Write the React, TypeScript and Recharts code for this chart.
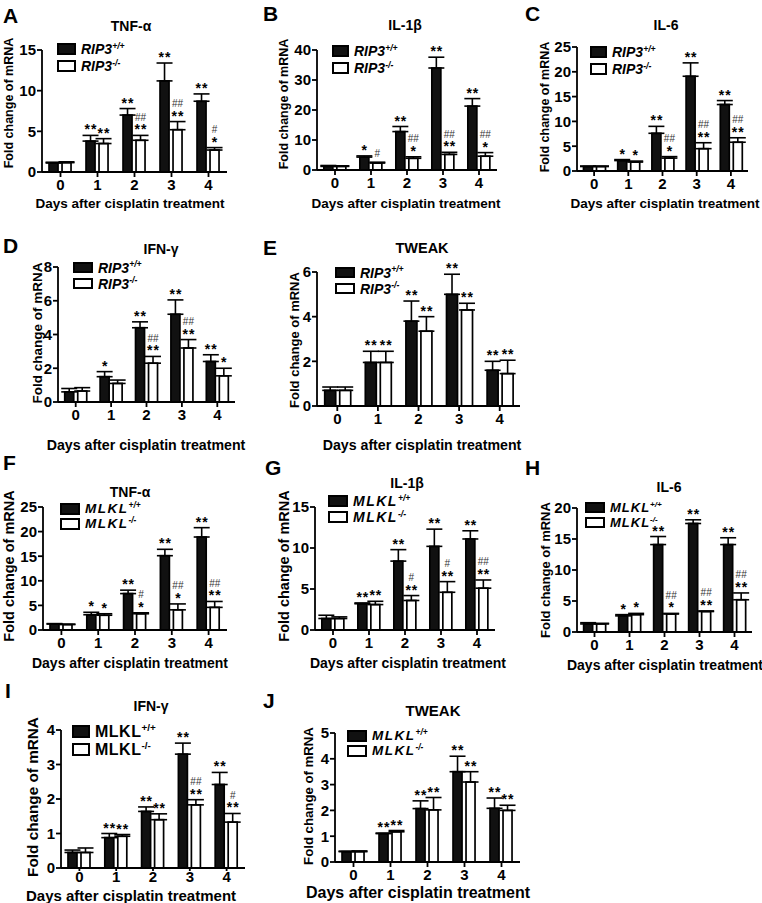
import React from 'react';
import { BarChart, Bar, XAxis, YAxis, ErrorBar, Legend } from 'recharts';

const FONT = '"Liberation Sans", Arial, Helvetica, sans-serif';

// categories (days after cisplatin)
const days = ['0', '1', '2', '3', '4'];

// A – TNF-α, RIP3
const aWt = [1.1, 3.8, 7.0, 11.2, 8.7];
const aWtErr = [0.1, 0.7, 0.8, 2.2, 0.9];
const aKo = [1.15, 3.5, 3.9, 5.2, 2.7];
const aKoErr = [0.1, 0.6, 0.6, 1.0, 0.3];
const aWtSig = ['', '**', '**', '**', '**'];
const aKoSig = ['', '**', '**', '**', '*'];
const aKoHash = ['', '', '##', '##', '#'];

// B – IL-1β, RIP3
const bWt = [1.2, 4.3, 12.8, 34.0, 21.3];
const bWtErr = [0.3, 0.4, 1.7, 3.6, 2.5];
const bKo = [1.2, 2.3, 3.9, 5.2, 4.6];
const bKoErr = [0.2, 0.3, 0.5, 0.7, 1.2];
const bWtSig = ['', '*', '**', '**', '**'];
const bKoSig = ['', '', '*', '**', '*'];
const bKoHash = ['', '#', '##', '##', '##'];

// C – IL-6, RIP3
const cWt = [0.9, 2.1, 7.6, 19.1, 13.4];
const cWtErr = [0.1, 0.2, 1.4, 2.7, 0.8];
const cKo = [0.9, 1.8, 2.6, 4.5, 5.8];
const cKoErr = [0.1, 0.2, 0.3, 1.2, 0.9];
const cWtSig = ['', '*', '**', '**', '**'];
const cKoSig = ['', '*', '*', '**', '**'];
const cKoHash = ['', '', '##', '##', '##'];

// D – IFN-γ, RIP3
const dWt = [0.6, 1.5, 4.4, 5.2, 2.4];
const dWtErr = [0.2, 0.3, 0.35, 0.85, 0.4];
const dKo = [0.65, 1.1, 2.3, 3.2, 1.55];
const dKoErr = [0.2, 0.2, 0.4, 0.5, 0.45];
const dWtSig = ['', '*', '**', '**', '**'];
const dKoSig = ['', '', '**', '**', '*'];
const dKoHash = ['', '', '##', '##', ''];

// E – TWEAK, RIP3
const eWt = [0.7, 1.95, 3.8, 5.0, 1.6];
const eWtErr = [0.15, 0.5, 0.9, 0.9, 0.4];
const eKo = [0.7, 1.95, 3.35, 4.3, 1.45];
const eKoErr = [0.15, 0.5, 0.65, 0.3, 0.6];
const eWtSig = ['', '**', '**', '**', '**'];
const eKoSig = ['', '**', '**', '**', '**'];
const eKoHash = ['', '', '', '', ''];

// F – TNF-α, MLKL
const fWt = [1.2, 3.1, 7.4, 15.1, 18.9];
const fWtErr = [0.1, 0.5, 0.7, 1.3, 1.9];
const fKo = [1.1, 3.0, 3.3, 4.1, 4.6];
const fKoErr = [0.1, 0.3, 0.2, 1.2, 1.2];
const fWtSig = ['', '*', '**', '**', '**'];
const fKoSig = ['', '*', '*', '*', '**'];
const fKoHash = ['', '', '#', '##', '##'];

// G – IL-1β, MLKL
const gWt = [1.4, 3.2, 8.4, 10.2, 11.1];
const gWtErr = [0.4, 0.1, 1.4, 2.1, 1.0];
const gKo = [1.4, 3.1, 3.6, 4.6, 5.1];
const gKoErr = [0.2, 0.4, 0.6, 1.3, 1.0];
const gWtSig = ['', '**', '**', '**', '**'];
const gKoSig = ['', '**', '**', '**', '**'];
const gKoHash = ['', '', '#', '#', '##'];

// H – IL-6, MLKL
const hWt = [1.3, 2.6, 14.1, 17.5, 14.1];
const hWtErr = [0.2, 0.2, 1.3, 0.6, 1.1];
const hKo = [1.3, 2.8, 2.9, 3.3, 5.2];
const hKoErr = [0.1, 0.2, 0.1, 0.1, 1.1];
const hWtSig = ['', '*', '**', '**', '**'];
const hKoSig = ['', '*', '*', '**', '**'];
const hKoHash = ['', '', '##', '##', '##'];

// I – IFN-γ, MLKL
const iWt = [0.45, 0.88, 1.64, 3.3, 2.42];
const iWtErr = [0.07, 0.12, 0.13, 0.32, 0.35];
const iKo = [0.45, 0.92, 1.4, 1.83, 1.33];
const iKoErr = [0.13, 0.05, 0.17, 0.15, 0.25];
const iWtSig = ['', '**', '**', '**', '**'];
const iKoSig = ['', '**', '**', '**', '**'];
const iKoHash = ['', '', '', '##', '#'];

// J – TWEAK, MLKL
const jWt = [0.4, 1.1, 2.07, 3.5, 2.08];
const jWtErr = [0.02, 0.02, 0.3, 0.6, 0.4];
const jKo = [0.4, 1.17, 2.02, 3.1, 2.0];
const jKoErr = [0.03, 0.05, 0.48, 0.4, 0.2];
const jWtSig = ['', '**', '**', '**', '**'];
const jKoSig = ['', '**', '**', '**', '**'];
const jKoHash = ['', '', '', '', ''];

const ticks4 = [0, 1, 2, 3, 4];
const ticks5 = [0, 1, 2, 3, 4, 5];
const ticks8 = [0, 2, 4, 6, 8];
const ticks6 = [0, 2, 4, 6];
const ticks15 = [0, 5, 10, 15];
const ticks20 = [0, 5, 10, 15, 20];
const ticks25 = [0, 5, 10, 15, 20, 25];
const ticks40 = [0, 10, 20, 30, 40];

const YW = 32;
const MT = 14;
const MR = 6;
const XH = 24;

const axisStyle = { stroke: '#000', strokeWidth: 1.8 };
const tickStyle = { fontFamily: FONT, fontSize: 15, fontWeight: 700, fill: '#000' };

const panels: any[] = [
  { letter: 'A', lx: 3, ly: 14.5, title: 'TNF-α', tx: 131, ty: 26, tf: 14,
    pl: 42, pr: 227, pt: 50, pb: 172, yMax: 15, yTicks: ticks15,
    ylx: 9, yly: 103, ylf: 12.5, xlx: 130, xly: 204, xlf: 13.5,
    gene: 'RIP3', italic: true, spacing: 0, bx: 57, by: 43, bw: 19, bh: 12, pitch: 17, lf: 14,
    wt: aWt, wtErr: aWtErr, ko: aKo, koErr: aKoErr, wtSig: aWtSig, koSig: aKoSig, koHash: aKoHash },
  { letter: 'B', lx: 263, ly: 12.5, title: 'IL-1β', tx: 405, ty: 25, tf: 14,
    pl: 317, pr: 497, pt: 50, pb: 170, yMax: 40, yTicks: ticks40,
    ylx: 284, yly: 104, ylf: 12.5, xlx: 406, xly: 204, xlf: 13.5,
    gene: 'RIP3', italic: true, spacing: 0, bx: 332, by: 45, bw: 17, bh: 12, pitch: 17, lf: 14,
    wt: bWt, wtErr: bWtErr, ko: bKo, koErr: bKoErr, wtSig: bWtSig, koSig: bKoSig, koHash: bKoHash },
  { letter: 'C', lx: 525, ly: 12.5, title: 'IL-6', tx: 666, ty: 25, tf: 14,
    pl: 577, pr: 748, pt: 47, pb: 171, yMax: 25, yTicks: ticks25,
    ylx: 545, yly: 107, ylf: 12.5, xlx: 665, xly: 204, xlf: 13.5,
    gene: 'RIP3', italic: true, spacing: 0, bx: 590, by: 46, bw: 17, bh: 12, pitch: 17, lf: 14,
    wt: cWt, wtErr: cWtErr, ko: cKo, koErr: cKoErr, wtSig: cWtSig, koSig: cKoSig, koHash: cKoHash },
  { letter: 'D', lx: 3, ly: 245, title: 'IFN-γ', tx: 161, ty: 249, tf: 14,
    pl: 58, pr: 235, pt: 267, pb: 402, yMax: 8, yTicks: ticks8,
    ylx: 38, yly: 333, ylf: 13.5, xlx: 146, xly: 445, xlf: 14.2,
    gene: 'RIP3', italic: true, spacing: 0, bx: 73, by: 262, bw: 20, bh: 11, pitch: 16, lf: 14,
    wt: dWt, wtErr: dWtErr, ko: dKo, koErr: dKoErr, wtSig: dWtSig, koSig: dKoSig, koHash: dKoHash },
  { letter: 'E', lx: 263, ly: 247, title: 'TWEAK', tx: 422, ty: 248, tf: 14.5,
    pl: 317, pr: 520, pt: 272, pb: 406, yMax: 6, yTicks: ticks6,
    ylx: 294, yly: 340, ylf: 13, xlx: 422, xly: 445, xlf: 14.2,
    gene: 'RIP3', italic: true, spacing: 0, bx: 335, by: 267, bw: 20, bh: 11, pitch: 16, lf: 14,
    wt: eWt, wtErr: eWtErr, ko: eKo, koErr: eKoErr, wtSig: eWtSig, koSig: eKoSig, koHash: eKoHash },
  { letter: 'F', lx: 3, ly: 462, title: 'TNF-α', tx: 130, ty: 492, tf: 14,
    pl: 43, pr: 227, pt: 507, pb: 630, yMax: 25, yTicks: ticks25,
    ylx: 9, yly: 566, ylf: 14.5, xlx: 130, xly: 663, xlf: 14,
    gene: 'MLKL', italic: true, spacing: 1.5, bx: 60, by: 503, bw: 20, bh: 12, pitch: 15, lf: 13.5,
    wt: fWt, wtErr: fWtErr, ko: fKo, koErr: fKoErr, wtSig: fWtSig, koSig: fKoSig, koHash: fKoHash },
  { letter: 'G', lx: 265, ly: 467, title: 'IL-1β', tx: 407, ty: 483, tf: 14,
    pl: 315, pr: 495, pt: 507, pb: 630, yMax: 15, yTicks: ticks15,
    ylx: 284, yly: 566, ylf: 14.5, xlx: 408, xly: 663, xlf: 14,
    gene: 'MLKL', italic: true, spacing: 1.5, bx: 328, by: 495, bw: 20, bh: 12, pitch: 16, lf: 14,
    wt: gWt, wtErr: gWtErr, ko: gKo, koErr: gKoErr, wtSig: gWtSig, koSig: gKoSig, koHash: gKoHash },
  { letter: 'H', lx: 525, ly: 467, title: 'IL-6', tx: 669, ty: 487, tf: 14,
    pl: 577, pr: 752, pt: 508, pb: 632, yMax: 20, yTicks: ticks20,
    ylx: 545, yly: 570, ylf: 13, xlx: 665, xly: 665, xlf: 14,
    gene: 'MLKL', italic: true, spacing: 1, bx: 585, by: 502, bw: 20, bh: 11, pitch: 15, lf: 13,
    wt: hWt, wtErr: hWtErr, ko: hKo, koErr: hKoErr, wtSig: hWtSig, koSig: hKoSig, koHash: hKoHash },
  { letter: 'I', lx: 5, ly: 690, title: 'IFN-γ', tx: 151, ty: 706, tf: 14,
    pl: 61, pr: 245, pt: 730, pb: 868, yMax: 4, yTicks: ticks4, tickSize: 3, tickGap: 0,
    ylx: 33, yly: 797, ylf: 15.3, xlx: 131, xly: 895, xlf: 15,
    gene: 'MLKL', italic: false, spacing: 0.5, bx: 72, by: 725, bw: 18, bh: 13, pitch: 18, lf: 16,
    wt: iWt, wtErr: iWtErr, ko: iKo, koErr: iKoErr, wtSig: iWtSig, koSig: iKoSig, koHash: iKoHash },
  { letter: 'J', lx: 263, ly: 700, title: 'TWEAK', tx: 433, ty: 710, tf: 15,
    pl: 335, pr: 520, pt: 733, pb: 862, yMax: 5, yTicks: ticks5,
    ylx: 309, yly: 796, ylf: 13.2, xlx: 418, xly: 893, xlf: 16,
    gene: 'MLKL', italic: true, spacing: 1.5, bx: 347, by: 730, bw: 20, bh: 12, pitch: 15, lf: 13.5,
    wt: jWt, wtErr: jWtErr, ko: jKo, koErr: jKoErr, wtSig: jWtSig, koSig: jKoSig, koHash: jKoHash },
];

// bar with its significance marks drawn above the error cap
const makeShape = (key: 'wt' | 'ko', fill: string) => (props: any) => {
  const { x, y, width, height, payload } = props;
  const v = payload[key];
  const k = v > 0 ? height / v : 0;
  const errTop = y - payload[key + 'E'] * k;
  const sig = payload[key + 'Sig'];
  const hash = key === 'ko' ? payload.koHash : '';
  const cx = x + width / 2;
  return (
    <g>
      <rect x={x} y={y} width={width} height={height} fill={fill} stroke="#000" strokeWidth={1.7} />
      {sig ? (
        <text x={cx + 0.5} y={errTop - 1} textAnchor="middle" fontFamily={FONT} fontSize={14} fontWeight={700} fill="#000" letterSpacing={1}>
          {sig}
        </text>
      ) : null}
      {hash ? (
        <text x={cx} y={sig ? errTop - 14.5 : errTop - 5} textAnchor="middle" fontFamily={FONT} fontSize={10} fill="#333">
          {hash}
        </text>
      ) : null}
    </g>
  );
};

const wtShape = makeShape('wt', '#111');
const koShape = makeShape('ko', '#fff');

const Txt = ({ x, y, size, children, rotate }: any) => (
  <div
    style={{
      position: 'absolute', left: x, top: y, whiteSpace: 'nowrap', lineHeight: 1,
      fontFamily: FONT, fontWeight: 700, fontSize: size, color: '#000',
      transform: rotate ? 'translate(-50%,-50%) rotate(-90deg)' : 'translate(-50%,-50%)',
    }}
  >
    {children}
  </div>
);

const LegendBox = ({ d }: any) => (
  <div style={{ fontFamily: FONT, fontWeight: 700, fontStyle: d.italic ? 'italic' : 'normal', fontSize: d.lf, letterSpacing: d.spacing, color: '#000', lineHeight: 1 }}>
    {[['+/+', '#111'], ['-/-', '#fff']].map(([g, c]) => (
      <div key={g} style={{ display: 'flex', alignItems: 'center', height: d.pitch, whiteSpace: 'nowrap' }}>
        <span style={{ display: 'inline-block', width: d.bw, height: d.bh, background: c, border: '2px solid #000', boxSizing: 'border-box', marginRight: 5 }} />
        <span>
          {d.gene}
          <span style={{ fontSize: '0.62em', position: 'relative', top: '-0.6em', letterSpacing: 0 }}>{g}</span>
        </span>
      </div>
    ))}
  </div>
);

const Panel = ({ d }: any) => {
  const left = d.pl - YW;
  const top = d.pt - MT;
  const width = d.pr - left + MR;
  const height = d.pb - top + XH;
  const rows = days.map((day, i) => ({
    day,
    wt: d.wt[i],
    ko: d.ko[i],
    wtE: d.wtErr[i],
    koE: d.koErr[i],
    wtRange: [0, d.wtErr[i]],
    koRange: [0, d.koErr[i]],
    wtSig: d.wtSig[i],
    koSig: d.koSig[i],
    koHash: d.koHash[i],
  }));
  const legTop = d.by - (d.pitch - d.bh) / 2 - top;
  const xt = d.tickSize ?? 5;
  const xm = d.tickGap ?? 2;
  return (
    <>
      <div style={{ position: 'absolute', left: d.lx, top: d.ly, transform: 'translateY(-50%)', fontFamily: FONT, fontWeight: 700, fontSize: 21, lineHeight: 1 }}>
        {d.letter}
      </div>
      <Txt x={d.tx} y={d.ty} size={d.tf}>{d.title}</Txt>
      <Txt x={d.ylx} y={d.yly} size={d.ylf} rotate>Fold change of mRNA</Txt>
      <Txt x={d.xlx} y={d.xly} size={d.xlf}>Days after cisplatin treatment</Txt>
      <div style={{ position: 'absolute', left, top }}>
        <BarChart width={width} height={height} data={rows} margin={{ top: MT, right: MR, bottom: 0, left: 0 }} barGap={4} barCategoryGap="19%">
          <XAxis dataKey="day" height={XH} tick={tickStyle} tickSize={xt} tickMargin={xm} axisLine={axisStyle} tickLine={axisStyle} interval={0} />
          <YAxis width={YW} domain={[0, d.yMax]} ticks={d.yTicks} tick={tickStyle} tickSize={5} tickMargin={1} axisLine={axisStyle} tickLine={axisStyle} interval={0} />
          <Legend
            layout="vertical"
            align="center"
            verticalAlign="middle"
            wrapperStyle={{ left: d.bx - left, top: legTop, width: 'auto', height: 'auto' }}
            content={() => <LegendBox d={d} />}
          />
          <Bar dataKey="wt" name={d.gene + '+/+'} fill="#111" isAnimationActive={false} shape={wtShape}>
            <ErrorBar dataKey="wtRange" width={8} strokeWidth={1.6} stroke="#000" direction="y" isAnimationActive={false} />
          </Bar>
          <Bar dataKey="ko" name={d.gene + '-/-'} fill="#fff" isAnimationActive={false} shape={koShape}>
            <ErrorBar dataKey="koRange" width={8} strokeWidth={1.6} stroke="#000" direction="y" isAnimationActive={false} />
          </Bar>
        </BarChart>
      </div>
    </>
  );
};

export default function App() {
  return (
    <div style={{ position: 'absolute', left: 0, top: 0, width: 762, height: 903, background: '#fff', fontFamily: FONT, overflow: 'hidden' }}>
      {panels.map((d) => (
        <Panel key={d.letter} d={d} />
      ))}
    </div>
  );
}
